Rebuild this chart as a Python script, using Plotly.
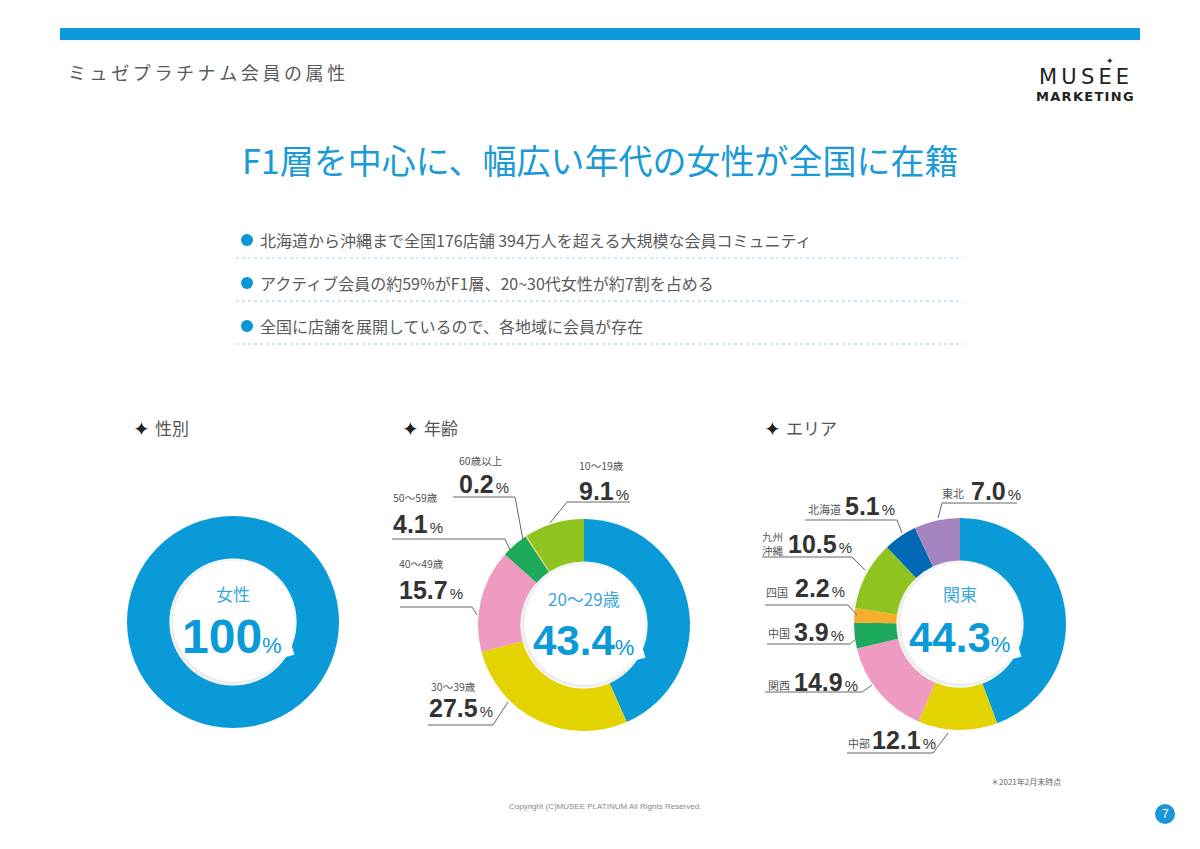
import math
import plotly.graph_objects as go

W, H = 1200, 849
OFF = 8  # page body margin of the html page

# ---------------- data ----------------
page_title = "ミュゼプラチナム会員の属性"
headline = "F1層を中心に、幅広い年代の女性が全国に在籍"
bullets = [
    "北海道から沖縄まで全国176店舗 394万人を超える大規模な会員コミュニティ",
    "アクティブ会員の約59%がF1層、20~30代女性が約7割を占める",
    "全国に店舗を展開しているので、各地域に会員が存在",
]
section_titles = ["性別", "年齢", "エリア"]

gender_labels = ["女性"]
gender_values = [100]
gender_colors = ["#0A9AD8"]

age_labels = ["20～29歳", "30～39歳", "40～49歳", "50～59歳", "60歳以上", "10～19歳"]
age_values = [43.4, 27.5, 15.7, 4.1, 0.2, 9.1]
age_colors = ["#0A9AD8", "#E3D300", "#EE9AC1", "#1DA95C", "#E0D45A", "#8EC320"]

area_labels = ["関東", "中部", "関西", "中国", "四国", "九州沖縄", "北海道", "東北"]
area_values = [44.3, 12.1, 14.9, 3.9, 2.2, 10.5, 5.1, 7.0]
area_colors = ["#0A9AD8", "#E3D300", "#EE9AC1", "#1DA95C", "#F7AE2C", "#8EC320", "#0068B5", "#A585BF"]

note = "＊2021年2月末時点"
copyright_text = "Copyright (C)MUSEE PLATINUM All Rights Reserved."
page_no = "7"

# ---------------- layout helpers ----------------
JP = "Noto Sans CJK JP"
NUM = "Liberation Sans"
BLUE = "#0A9AD8"
FW, FH = W - OFF, H - OFF

donuts = [
    (gender_labels, gender_values, gender_colors, (233, 622)),
    (age_labels, age_values, age_colors, (584, 625)),
    (area_labels, area_values, area_colors, (960, 624)),
]
R = 106
HOLE = 0.60

fig = go.Figure()
fig.add_trace(go.Scatter(x=[], y=[], showlegend=False, hoverinfo="skip"))

for labels, values, colors, (cx, cy) in donuts:
    fig.add_trace(go.Pie(
        labels=labels, values=values, sort=False, direction="clockwise", rotation=0,
        hole=HOLE, marker=dict(colors=colors, line=dict(width=0)),
        textinfo="none", hoverinfo="label+percent", showlegend=False,
        domain=dict(x=[(cx - R - OFF) / FW, (cx + R - OFF) / FW],
                    y=[1 - (cy + R - OFF) / FH, 1 - (cy - R - OFF) / FH]),
    ))

shapes = []
annotations = []


def txt(x, y, text, size, color="#555", family=JP, xanchor="left", yanchor="middle"):
    annotations.append(dict(x=x, y=y, xref="x", yref="y", text=text, showarrow=False,
                            xanchor=xanchor, yanchor=yanchor,
                            font=dict(size=size, color=color, family=family)))


def line(pts, color="#666", width=1, dash="solid"):
    d = "M " + " L ".join(f"{x},{y}" for x, y in pts)
    shapes.append(dict(type="path", path=d, xref="x", yref="y",
                       line=dict(color=color, width=width, dash=dash), layer="above"))


TS = "\u2009"
HS = "\u200a"

# top bar
shapes.append(dict(type="rect", x0=60, x1=1140, y0=28, y1=40, xref="x", yref="y",
                   fillcolor="#0A9AD8", line=dict(width=0)))
txt(66, 72, TS.join(page_title), 18, "#5a5a5a")

# logo
txt(1084, 77, TS.join("MUSEE"), 21, "#222", "DejaVu Sans", xanchor="center")
txt(1085, 96, "<b>" + HS.join("MARKETING") + "</b>", 13, "#222", "DejaVu Sans", xanchor="center")
txt(1110, 61, "✦", 9, "#222", "DejaVu Sans", xanchor="center")

# headline
txt(600, 159, headline, 34, "#1A9AD6", xanchor="center")

# bullets
for i, b in enumerate(bullets):
    y = 240 + 43 * i
    shapes.append(dict(type="circle", x0=241, x1=253, y0=y - 6, y1=y + 6, xref="x", yref="y",
                       fillcolor="#0A96D6", line=dict(width=0)))
    txt(258, y, b, 16, "#5a5a5a")
    line([(236, y + 18), (963, y + 18)], color="#9dd2e8", width=1, dash="dot")

# section headers
for (x, t) in zip([131, 400, 762], section_titles):
    txt(x, 429, "✦", 20, "#222", "DejaVu Sans")
    txt(x + 22, 427, t, 17, "#555")

# center bubbles
for labels, values, colors, (cx, cy) in donuts:
    r_in = R * HOLE
    shapes.append(dict(type="circle", x0=cx - r_in + 1, x1=cx + r_in - 1, y0=cy - r_in + 1, y1=cy + r_in - 1,
                       xref="x", yref="y", fillcolor="rgba(0,0,0,0.07)", line=dict(width=0), layer="above"))
    rw = r_in - 3
    shapes.append(dict(type="circle", x0=cx - rw + 1, x1=cx + rw + 1, y0=cy - rw - 1, y1=cy + rw - 1,
                       xref="x", yref="y", fillcolor="white", line=dict(width=0), layer="above"))
    a1, a2, ap = math.radians(18), math.radians(40), math.radians(28)
    p1 = (cx + 1 + (rw - 2) * math.cos(a1), cy - 1 + (rw - 2) * math.sin(a1))
    p2 = (cx + 1 + (rw - 2) * math.cos(a2), cy - 1 + (rw - 2) * math.sin(a2))
    pt = (cx + (rw + 9) * math.cos(ap), cy + (rw + 9) * math.sin(ap))
    shapes.append(dict(type="path", path=f"M {p1[0]},{p1[1]} L {pt[0]},{pt[1]} L {p2[0]},{p2[1]} Z",
                       xref="x", yref="y", fillcolor="white", line=dict(width=0), layer="above"))


def big(v):
    s = f"{v:g}" if v == 100 else f"{v:.1f}"
    return f"<b>{s}</b><span style='font-size:22px'>%</span>"


txt(233, 593, gender_labels[0], 17, "#3BA7DB", xanchor="center")
txt(232, 636, big(gender_values[0]), 48, BLUE, NUM, xanchor="center")
txt(584, 598, age_labels[0], 17, "#3BA7DB", xanchor="center")
txt(583, 640, big(age_values[0]), 42, BLUE, NUM, xanchor="center")
txt(960, 593, area_labels[0], 17, "#3BA7DB", xanchor="center")
txt(959, 637, big(area_values[0]), 42, BLUE, NUM, xanchor="center")


def val(v):
    return f"<b>{v:.1f}</b>{HS}<span style='font-size:15px'>%</span>"


# age labels: (index, small-label pos, value pos, leader points)
age_pos = {
    4: ((457, 460), (457, 484), [(453, 497), (515, 497), (523, 540)]),
    5: ((577, 465), (577, 491), [(630, 502), (567, 502), (550, 523)]),
    3: ((391, 497), (391, 524), [(392, 539), (505, 539), (510, 550)]),
    2: ((397, 563), (397, 590), [(400, 607), (472, 607), (477, 615)]),
    1: ((429, 686), (427, 708), [(428, 725), (493, 725), (508, 702)]),
}
for i, (lp, vp, pts) in age_pos.items():
    txt(lp[0], lp[1], age_labels[i], 10.5, "#555")
    txt(vp[0], vp[1], val(age_values[i]), 25, "#333", NUM)
    line(pts, "#666", 1)

# area labels
area_pos = {
    7: ((940, 493), (969, 491), [(1017, 503), (942, 503), (938, 518)]),
    6: ((806, 509), (843, 506), [(805, 520), (897, 520), (902, 533)]),
    4: ((764, 592), (793, 588), [(765, 605), (848, 605), (857, 615)]),
    3: ((766, 633), (792, 632), [(767, 644), (850, 644), (857, 638)]),
    2: ((766, 685), (792, 682), [(765, 692), (862, 692), (872, 685)]),
    1: ((846, 743), (870, 740), [(847, 753), (933, 753), (948, 733)]),
}
for i, (lp, vp, pts) in area_pos.items():
    txt(lp[0], lp[1], area_labels[i], 11, "#555")
    txt(vp[0], vp[1], val(area_values[i]), 25, "#333", NUM)
    line(pts, "#666", 1)
# 九州沖縄 (two-line label)
txt(760, 543, area_labels[5][:2] + "<br>" + area_labels[5][2:], 10.5, "#555")
txt(786, 544, val(area_values[5]), 25, "#333", NUM)
line([(762, 557), (852, 557), (865, 570)], "#666", 1)

# footer
txt(989, 781, note, 8, "#666", xanchor="left")
txt(605, 806, copyright_text, 8, "#888", NUM, xanchor="center")
shapes.append(dict(type="circle", x0=1155, x1=1175, y0=804, y1=824, xref="x", yref="y",
                   fillcolor="#1A96D6", line=dict(width=0)))
txt(1165, 814, page_no, 12, "white", NUM, xanchor="center")

fig.update_layout(
    width=FW, height=FH, margin=dict(l=0, r=0, t=0, b=0),
    paper_bgcolor="white", plot_bgcolor="white",
    xaxis=dict(range=[OFF, W], visible=False, fixedrange=True),
    yaxis=dict(range=[H, OFF], visible=False, fixedrange=True),
    shapes=shapes, annotations=annotations, showlegend=False,
)
fig.write_html("out.html")
